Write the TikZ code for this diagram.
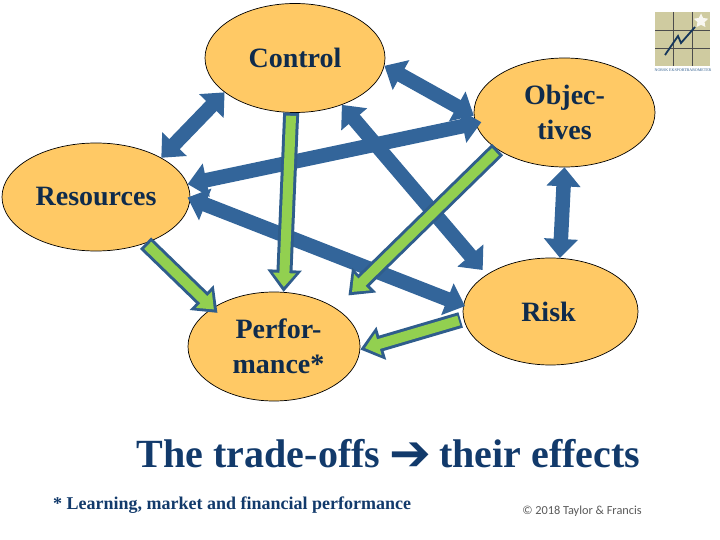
\documentclass[tikz,border=0pt]{standalone}
\usepackage{fontspec}
\setmainfont{Liberation Serif}
\newfontfamily\symfont{DejaVu Sans}
\newfontfamily\credfont{Carlito}
\usetikzlibrary{arrows.meta}
\usetikzlibrary{shapes}

\definecolor{peach}{HTML}{FFC965}
\definecolor{navy}{HTML}{0F2B4C}
\definecolor{titleblue}{HTML}{123A6B}
\definecolor{steel}{HTML}{33659A}
\definecolor{edgeblue}{HTML}{2F5D8C}
\definecolor{leaf}{HTML}{92D050}
\definecolor{logotan}{HTML}{CFCBA0}

\tikzset{
 topic/.style={ellipse,draw=black,line width=.7pt,fill=peach,inner sep=0pt,align=center,
  text=navy,font=\fontsize{28}{35}\selectfont\bfseries},
 tradeoff/.style={line width=14.5pt,draw=steel,
  {Triangle[length=19pt,width=33pt,fill=steel]}-{Triangle[length=19pt,width=33pt,fill=steel]}},
 effectout/.style={line width=16pt,draw=edgeblue,
  -{Triangle[length=22pt,width=33pt,fill=edgeblue]}},
 effectin/.style={line width=10pt,draw=leaf,shorten <=3pt,
  -{Triangle[length=14pt,width=22pt,fill=leaf]}}
}

\begin{document}
\begin{tikzpicture}[x=1pt,y=-1pt]
 \useasboundingbox (0,0) rectangle (720,540);

 \node[topic,minimum width=180pt,minimum height=109pt] (control) at (295,58) {Control};
 \node[topic,minimum width=181pt,minimum height=109pt] (objectives) at (564.5,112.5) {Objec-\\tives};
 \node[topic,minimum width=188pt,minimum height=108pt] (resources) at (96,197) {Resources};
 \node[topic,minimum width=172pt,minimum height=109pt] (performance) at (274,346.5) {\kern9pt Perfor-\\\kern9pt mance*};
 \node[topic,minimum width=175pt,minimum height=107pt] (risk) at (550.5,311.5) {Risk\kern4pt};

 \draw[tradeoff] (control.206.9) -- (resources.31.6);
 \draw[tradeoff] (control.-5.6) -- (objectives.182.3);
 \draw[tradeoff,shorten <=-6pt] (objectives.187.3) -- (resources.8.6);
 \draw[tradeoff,shorten >=6pt] (control.-45.9) -- (risk.150);
 \draw[tradeoff,shorten <=-3pt,shorten >=-2pt] (resources.-1.9) -- (risk.176.3);
 \draw[tradeoff] (objectives.-90) -- (risk.80);

 \draw[effectout,shorten >=-7pt] (resources.-43) -- (performance.148.5);
 \draw[effectin,shorten >=-2pt] (resources.-43) -- (performance.148.5);
 \draw[effectout] (control.-94) -- (performance.80.8);
 \draw[effectin,shorten >=5pt] (control.-94) -- (performance.80.8);
 \draw[effectout,shorten >=18pt] (objectives.209.7) -- (performance.32);
 \draw[effectin,shorten >=23pt] (objectives.209.7) -- (performance.32);
 \draw[effectout,shorten <=3pt] (risk.185) -- (performance.-2.8);
 \draw[effectin,shorten <=5pt,shorten >=5pt] (risk.185) -- (performance.-2.8);

 \node[text=titleblue,font=\fontsize{40}{40}\selectfont\bfseries] (title) at (388.5,454.5)
  {The trade-offs\kern-1pt\ {\symfont\fontsize{50}{50}\selectfont\raisebox{-3pt}{➔}}\kern-2pt\ their effects};
 \node[text=titleblue,font=\fontsize{18}{20}\selectfont\bfseries] (note) at (232,505.5)
  {* Learning, market and financial performance};
 \node[text=black!65,font=\credfont\fontsize{12.3}{14}\selectfont] (credit) at (582,511)
  {© 2018 Taylor \& Francis};

 % logo
 \fill[logotan] (655,12) rectangle (710,66);
 \draw[gray!60!black,line width=.6pt] (673,12) -- (673,66) (692,12) -- (692,66)
  (655,30) -- (710,30) (655,48) -- (710,48);
 \draw[navy!80!steel,line width=1.8pt] (665,55) -- (678,36) -- (681,43) -- (695,27);
 \node[star,star points=5,star point ratio=2,fill=white!85!logotan,inner sep=0pt,minimum size=15pt] (logostar) at (701,21) {};
 \node[text=edgeblue,font=\fontsize{4}{4}\selectfont] (logoname) at (683,70.5) {NORSK EKSPORTBAROMETER};
\end{tikzpicture}
\end{document}
